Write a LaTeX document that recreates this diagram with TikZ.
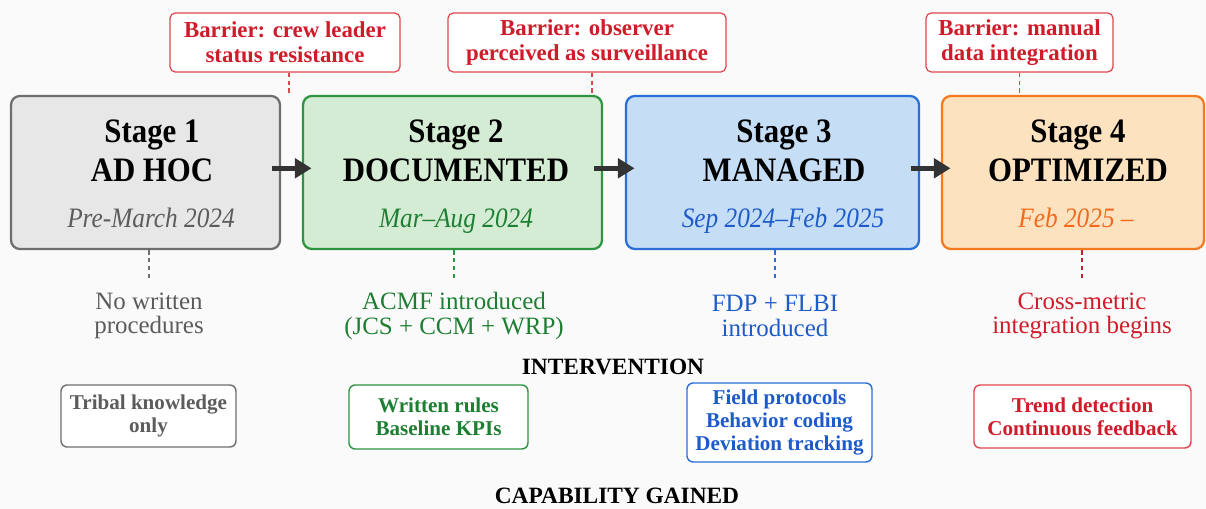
\documentclass[tikz,border=0pt]{standalone}
\usepackage{fontspec}
\setmainfont{Liberation Serif}
\newfontfamily\titlefont[FakeStretch=0.9,Ligatures=TeX]{Liberation Serif}
\usetikzlibrary{calc, arrows.meta}

\definecolor{bg}{HTML}{FAFAFA}
\definecolor{arrowgray}{HTML}{333333}
\definecolor{adline}{HTML}{6E6E6E}
\definecolor{adfill}{HTML}{E7E7E7}
\definecolor{adtext}{HTML}{5C5C5C}
\definecolor{docline}{HTML}{2E9440}
\definecolor{docfill}{HTML}{D5ECD4}
\definecolor{doctext}{HTML}{1E7E32}
\definecolor{manline}{HTML}{2A6FD6}
\definecolor{manfill}{HTML}{C6DDF6}
\definecolor{mantext}{HTML}{1D5BC9}
\definecolor{optline}{HTML}{F47A20}
\definecolor{optfill}{HTML}{FDE2C0}
\definecolor{opttext}{HTML}{F26B1D}
\definecolor{barline}{HTML}{E0474C}
\definecolor{barred}{HTML}{D01C2A}

\begin{document}
\begin{tikzpicture}[
		x=0.02cm, y=-0.02cm,
		>={Triangle[length=9.5pt,width=11pt]},
		stagebox/.style={draw, rounded corners=5pt, line width=1.3pt, minimum height=3.06cm, inner sep=0pt},
		stagetitle/.style={anchor=base, font=\titlefont\fontsize{19.5}{23}\selectfont\bfseries},
		stagedate/.style={anchor=base, font=\titlefont\fontsize{16}{19}\selectfont\itshape},
		barrier/.style={draw=barline, fill=white, rounded corners=3pt, line width=0.7pt, minimum height=1.18cm, inner sep=0pt, align=center, text=barred, font=\fontsize{13}{14.3}\selectfont\bfseries},
		interv/.style={align=center, inner sep=0pt, font=\fontsize{14.2}{13.8}\selectfont},
		capbox/.style={draw, fill=white, rounded corners=3.5pt, line width=0.8pt, inner sep=0pt, align=center, font=\fontsize{12}{13}\selectfont\bfseries},
		heading/.style={anchor=base, font=\fontsize{13.3}{15}\selectfont\bfseries},
		flow/.style={->, line width=2.8pt, draw=arrowgray, shorten <=-5pt, shorten >=-5.5pt},
		link/.style={dash pattern=on 2.5pt off 2pt, line width=0.8pt},
	]
	\fill[bg] (0,0) rectangle (1206,509);
	\useasboundingbox (0,0) rectangle (1206,509);

	\node[stagebox, draw=adline, fill=adfill, minimum width=5.38cm] (s1) at (145.5,172.5) {};
	\node[stagebox, draw=docline, fill=docfill, minimum width=5.98cm] (s2) at (452.5,172.5) {};
	\node[stagebox, draw=manline, fill=manfill, minimum width=5.86cm] (s3) at (772.5,172.5) {};
	\node[stagebox, draw=optline, fill=optfill, minimum width=5.24cm] (s4) at (1073,172.5) {};

	\node[stagetitle] (t1) at (152,143) {Stage 1};
	\node[stagetitle] (n1) at (152,182) {AD HOC};
	\node[stagedate, text=adtext] (d1) at (151,228) {Pre-March 2024};
	\node[stagetitle] (t2) at (456,143) {Stage 2};
	\node[stagetitle] (n2) at (456,182) {DOCUMENTED};
	\node[stagedate, text=doctext] (d2) at (456,228) {Mar–Aug 2024};
	\node[stagetitle] (t3) at (784,143) {Stage 3};
	\node[stagetitle] (n3) at (784,182) {MANAGED};
	\node[stagedate, text=mantext] (d3) at (783,228) {Sep 2024–Feb 2025};
	\node[stagetitle] (t4) at (1078,143) {Stage 4};
	\node[stagetitle] (n4) at (1078,182) {OPTIMIZED};
	\node[stagedate, text=opttext] (d4) at (1076,228) {Feb 2025 –};

	\draw[flow] ([yshift=2.4pt]s1.east) -- ([yshift=2.4pt]s2.west);
	\draw[flow] ([yshift=2.4pt]s2.east) -- ([yshift=2.4pt]s3.west);
	\draw[flow] ([yshift=2.4pt]s3.east) -- ([yshift=2.4pt]s4.west);

	\node[barrier, minimum width=4.6cm] (b1) at (285,42.5) {Barrier: crew leader\\status resistance};
	\node[barrier, minimum width=5.56cm] (b2) at (587,42.5) {Barrier: observer\\perceived as surveillance};
	\node[barrier, minimum width=3.74cm] (b3) at (1019.5,42.5) {Barrier: manual\\data integration};
	\draw[link, barline] ([xshift=2.3pt]b1.south) -- ([xshift=2.3pt]b1.south |- s1.north);
	\draw[link, barline] ([xshift=2.8pt]b2.south) -- ([xshift=2.8pt]b2.south |- s2.north);
	\draw[link, barline] (b3.south) -- (b3.south |- s4.north);

	\node[interv, text=adtext] (i1) at (149,316) {No written\\procedures};
	\node[interv, text=doctext] (i2) at (454,316) {ACMF introduced\\(JCS + CCM + WRP)};
	\node[interv, text=mantext] (i3) at (775,316) {FDP + FLBI\\introduced};
	\node[interv, text=barred] (i4) at (1082,316) {Cross-metric\\integration begins};
	\draw[link, adline] (i1.north |- s1.south) -- (i1.north |- 0,280);
	\draw[link, docline] (i2.north |- s2.south) -- (i2.north |- 0,280);
	\draw[link, manline] (i3.north |- s3.south) -- (i3.north |- 0,280);
	\draw[link, barred] (i4.north |- s4.south) -- (i4.north |- 0,280);

	\node[heading] (hint) at (613,375) {INTERVENTION};

	\node[capbox, draw=adline, text=adtext, minimum width=3.5cm, minimum height=1.24cm] (c1) at (148.5,416) {Tribal knowledge\\only};
	\node[capbox, draw=docline, text=doctext, minimum width=3.58cm, minimum height=1.28cm] (c2) at (438.5,417) {Written rules\\Baseline KPIs};
	\node[capbox, draw=manline, text=mantext, minimum width=3.7cm, minimum height=1.58cm] (c3) at (779.5,422.5) {Field protocols\\Behavior coding\\Deviation tracking};
	\node[capbox, draw=barline, text=barred, minimum width=4.34cm, minimum height=1.26cm] (c4) at (1082.5,416.5) {Trend detection\\Continuous feedback};

	\node[heading] (hcap) at (617,503) {CAPABILITY GAINED};
\end{tikzpicture}
\end{document}
